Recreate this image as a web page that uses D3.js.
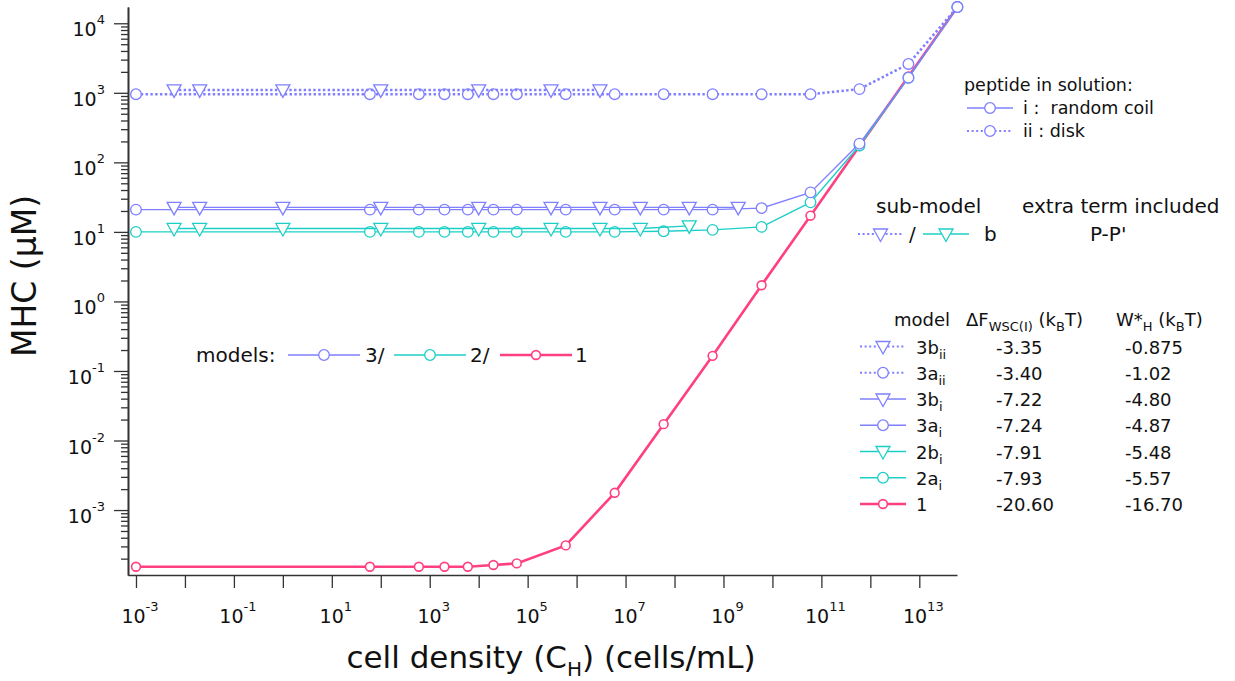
<!DOCTYPE html>
<html>
<head>
<meta charset="utf-8">
<script src="https://cdn.jsdelivr.net/npm/d3@7"></script>
<style>
  body { margin: 0; background: #fff; }
  svg { display: block; }
  text { font-family: "DejaVu Sans", "Liberation Sans", sans-serif; fill: #111; }
</style>
</head>
<body>
<svg id="chart" width="1235" height="681"></svg>
<script>
// ---- data -------------------------------------------------------------
// cell densities (cells/mL) used by the circle (a) sub-models and model 1
const xCircle = [1e-3, 6e1, 6e2, 2e3, 6e3, 2e4, 6e4, 6e5, 6e6, 6e7, 6e8, 6e9, 6e10, 6e11, 6e12, 6e13];
// cell densities used by the triangle (b) sub-models
const xTriangle = [6e-3, 2e-2, 1, 1e2, 1e4, 3e5, 3e6, 2e7, 2e8, 2e9];

// MHC (uM) for each model
const model1   = [1.53e-4, 1.53e-4, 1.53e-4, 1.53e-4, 1.53e-4, 1.62e-4, 1.71e-4, 3.1e-4, 1.77e-3, 1.72e-2, 0.165, 1.71, 17.1, 172, 1720, 17100];
const model2ai = [10, 10, 10, 10, 10, 10, 10, 10, 10, 10.2, 10.7, 11.8, 26.6, 175, 1650, 17100];
const model2bi = [11.2, 11.2, 11.2, 11.2, 11.2, 11.2, 11.2, 11.2, 12.2];
const model3ai = [20.9, 20.9, 20.9, 20.9, 20.9, 20.9, 20.9, 20.9, 20.9, 20.9, 20.9, 22, 37, 186, 1650, 17100];
const model3bi = [22.5, 22.5, 22.5, 22.5, 22.5, 22.5, 22.5, 22.5, 22.5, 22.5];
const model3aii = [955, 955, 955, 955, 955, 955, 955, 955, 955, 955, 955, 955, 955, 1130, 2600, 17100];
const model3bii = [1100, 1100, 1100, 1100, 1100, 1100, 1100];

// legend table
const tableModels = [["3b", "ii"], ["3a", "ii"], ["3b", "i"], ["3a", "i"], ["2b", "i"], ["2a", "i"], ["1", ""]];
const tableDeltaF = ["-3.35", "-3.40", "-7.22", "-7.24", "-7.91", "-7.93", "-20.60"];
const tableW = ["-0.875", "-1.02", "-4.80", "-4.87", "-5.48", "-5.57", "-16.70"];

// tick exponents
const xMajorExp = d3.range(-3, 14);
const xLabelExp = [-3, -1, 1, 3, 5, 7, 9, 11, 13];
const yMajorExp = d3.range(-3, 5);

// ---- styles -----------------------------------------------------------
const PURPLE = "#7f7fff", CYAN = "#1ccfc6", PINK = "#ff3f82";
const styles = {
  m1:   { color: PINK,   width: 2.6, dash: null,      marker: "circle",   r: 4.4 },
  m2ai: { color: CYAN,   width: 1.4, dash: null,      marker: "circle",   r: 5.3 },
  m2bi: { color: CYAN,   width: 1.4, dash: null,      marker: "triangle", r: 5.3 },
  m3ai: { color: PURPLE, width: 1.4, dash: null,      marker: "circle",   r: 5.3 },
  m3bi: { color: PURPLE, width: 1.4, dash: null,      marker: "triangle", r: 5.3 },
  m3aii:{ color: PURPLE, width: 2.6, dash: "2.4,2.4", marker: "circle",   r: 5.3 },
  m3bii:{ color: PURPLE, width: 2.6, dash: "2.4,2.4", marker: "triangle", r: 5.3 }
};

const svg = d3.select("#chart");

// ---- scales -----------------------------------------------------------
const x = d3.scaleLog().domain([Math.pow(10, -3.163), Math.pow(10, 13.77)]).range([128, 957]);
const y = d3.scaleLog().domain([Math.pow(10, -3.934), Math.pow(10, 4.234)]).range([575, 7]);

// ---- axes -------------------------------------------------------------
const axisColor = "#333";
const xAxis = svg.append("g").attr("transform", "translate(0,575)")
  .call(d3.axisBottom(x).tickValues(xMajorExp.map(e => Math.pow(10, e))).tickSize(13).tickSizeOuter(0).tickFormat(""));
const yMinor = [];
for (let e = -4; e <= 4; e++) for (let k = 2; k <= 9; k++) {
  const v = k * Math.pow(10, e);
  if (v > y.domain()[0] && v < y.domain()[1]) yMinor.push(v);
}
const yAxisMinor = svg.append("g").attr("transform", "translate(128,0)")
  .call(d3.axisLeft(y).tickValues(yMinor).tickSize(7).tickSizeOuter(0).tickFormat(""));
const yAxis = svg.append("g").attr("transform", "translate(128,0)")
  .call(d3.axisLeft(y).tickValues(yMajorExp.map(e => Math.pow(10, e))).tickSize(14).tickSizeOuter(0).tickFormat(""));
[xAxis, yAxis, yAxisMinor].forEach(g => {
  g.select(".domain").attr("stroke", axisColor).attr("stroke-width", 1.6);
  g.selectAll(".tick line").attr("stroke", axisColor).attr("stroke-width", 1.3);
});

// power-of-ten labels
function powerLabel(sel, exp, anchor) {
  sel.attr("text-anchor", anchor).style("font-size", "19px");
  sel.append("tspan").text("10");
  sel.append("tspan").attr("dy", -12).style("font-size", "13px").text(String(exp));
}
xLabelExp.forEach(e => {
  const t = svg.append("text").attr("x", x(Math.pow(10, e)) + 4).attr("y", 623);
  powerLabel(t, e, "middle");
});
yMajorExp.forEach(e => {
  const t = svg.append("text").attr("x", 105).attr("y", y(Math.pow(10, e)) + 13);
  powerLabel(t, e, "end");
});

// axis titles
const xt = svg.append("text").attr("x", 551).attr("y", 668).attr("text-anchor", "middle").style("font-size", "31px");
xt.append("tspan").text("cell density (C");
xt.append("tspan").attr("dy", 8).style("font-size", "20px").text("H");
xt.append("tspan").attr("dy", -8).text(") (cells/mL)");
svg.append("text").attr("transform", "translate(36,276) rotate(-90)").attr("text-anchor", "middle")
  .style("font-size", "33px").text("MHC (\u03BCM)");

// ---- marks ------------------------------------------------------------
function drawMarker(g, cx, cy, st) {
  if (st.marker === "circle") {
    g.append("circle").attr("cx", cx).attr("cy", cy).attr("r", st.r)
      .attr("fill", "#fff").attr("stroke", st.color).attr("stroke-width", st.color === PINK ? 1.6 : 1.3);
  } else {
    const hw = 7, top = 5, bot = 7.5;
    g.append("path").attr("d", `M${cx - hw},${cy - top}L${cx + hw},${cy - top}L${cx},${cy + bot}Z`)
      .attr("fill", "#fff").attr("stroke", st.color).attr("stroke-width", 1.3).attr("stroke-linejoin", "miter");
  }
}
const line = d3.line().x(d => x(d[0])).y(d => y(d[1]));
function drawSeries(xs, ys, st) {
  const pts = ys.map((v, i) => [xs[i], v]);
  const g = svg.append("g");
  g.append("path").attr("d", line(pts)).attr("fill", "none")
    .attr("stroke", st.color).attr("stroke-width", st.width)
    .attr("stroke-dasharray", st.dash);
  pts.forEach(p => drawMarker(g, x(p[0]), y(p[1]), st));
}
drawSeries(xCircle, model1, styles.m1);
drawSeries(xCircle, model2ai, styles.m2ai);
drawSeries(xTriangle, model2bi, styles.m2bi);
drawSeries(xCircle, model3ai, styles.m3ai);
drawSeries(xTriangle, model3bi, styles.m3bi);
drawSeries(xCircle, model3aii, styles.m3aii);
drawSeries(xTriangle, model3bii, styles.m3bii);

// ---- legends ----------------------------------------------------------
function legendSample(x0, x1, cy, st) {
  const g = svg.append("g");
  g.append("line").attr("x1", x0).attr("x2", x1).attr("y1", cy).attr("y2", cy)
    .attr("stroke", st.color).attr("stroke-width", st.dash ? 2 : st.width)
    .attr("stroke-dasharray", st.dash ? "2,2.6" : null);
  drawMarker(g, (x0 + x1) / 2, cy, st);
}

// models legend
svg.append("text").attr("x", 196).attr("y", 362).style("font-size", "20px").text("models:");
legendSample(288, 360, 355, styles.m3ai);
svg.append("text").attr("x", 365).attr("y", 362).style("font-size", "20px").text("3/");
legendSample(394, 466, 355, styles.m2ai);
svg.append("text").attr("x", 470).attr("y", 362).style("font-size", "20px").text("2/");
legendSample(500, 572, 355, styles.m1);
svg.append("text").attr("x", 575).attr("y", 362).style("font-size", "20px").text("1");

// peptide legend
svg.append("text").attr("x", 964).attr("y", 91).style("font-size", "17.5px").text("peptide in solution:");
legendSample(967, 1013, 108, styles.m3ai);
svg.append("text").attr("x", 1023).attr("y", 114).style("font-size", "17.5px").attr("xml:space", "preserve").text("i :  random coil");
legendSample(967, 1013, 131, styles.m3aii);
svg.append("text").attr("x", 1023).attr("y", 137).style("font-size", "17.5px").text("ii : disk");

// sub-model legend
svg.append("text").attr("x", 876).attr("y", 213).style("font-size", "20px").text("sub-model");
svg.append("text").attr("x", 1022).attr("y", 213).style("font-size", "20px").text("extra term included");
legendSample(858, 903, 234, styles.m3bii);
svg.append("text").attr("x", 909).attr("y", 241).style("font-size", "20px").text("/");
legendSample(923, 969, 234, styles.m2bi);
svg.append("text").attr("x", 984).attr("y", 241).style("font-size", "20px").text("b");
svg.append("text").attr("x", 1090).attr("y", 241).style("font-size", "20px").text("P-P'");

// table legend
const fs = "18px";
svg.append("text").attr("x", 894).attr("y", 326).style("font-size", fs).text("model");
const h1 = svg.append("text").attr("x", 966).attr("y", 326).style("font-size", fs);
h1.append("tspan").text("\u0394F");
h1.append("tspan").attr("dy", 5).style("font-size", "13px").text("WSC(I)");
h1.append("tspan").attr("dy", -5).text(" (k");
h1.append("tspan").attr("dy", 5).style("font-size", "13px").text("B");
h1.append("tspan").attr("dy", -5).text("T)");
const h2 = svg.append("text").attr("x", 1116).attr("y", 326).style("font-size", fs);
h2.append("tspan").text("W*");
h2.append("tspan").attr("dy", 5).style("font-size", "13px").text("H");
h2.append("tspan").attr("dy", -5).text(" (k");
h2.append("tspan").attr("dy", 5).style("font-size", "13px").text("B");
h2.append("tspan").attr("dy", -5).text("T)");

const rowStyles = [styles.m3bii, styles.m3aii, styles.m3bi, styles.m3ai, styles.m2bi, styles.m2ai, styles.m1];
tableModels.forEach((m, i) => {
  const cy = 346.5 + i * 26.25;
  legendSample(860, 906, cy, rowStyles[i]);
  const t = svg.append("text").attr("x", 916).attr("y", cy + 7).style("font-size", fs);
  t.append("tspan").text(m[0]);
  if (m[1]) t.append("tspan").attr("dy", 5).style("font-size", "13px").text(m[1]);
  svg.append("text").attr("x", 996).attr("y", cy + 7).style("font-size", fs).text(tableDeltaF[i]);
  svg.append("text").attr("x", 1125).attr("y", cy + 7).style("font-size", fs).text(tableW[i]);
});
</script>
</body>
</html>
